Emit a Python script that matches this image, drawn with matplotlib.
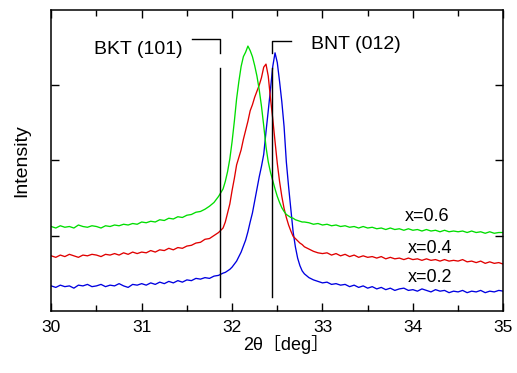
import numpy as np
import matplotlib
matplotlib.use('Agg')
import matplotlib.pyplot as plt
from matplotlib.ticker import MultipleLocator

# 字体：拉丁字母用 Liberation Sans，全角括号交给 Noto Sans CJK JP
plt.rcParams['font.family'] = ['Liberation Sans', 'Noto Sans CJK JP']

# 2θ 采样点（峰附近步长更细）
two_theta = np.concatenate([np.arange(30.00, 31.901, 0.05),
                            np.arange(31.925, 32.801, 0.025),
                            np.arange(32.85, 35.001, 0.05)])

# x=0.2 （蓝）
blue_left = [0.33, 0.31, 0.34, 0.32, 0.33, 0.30, 0.34, 0.33, 0.35, 0.32,
             0.33, 0.35, 0.32, 0.34, 0.33, 0.36, 0.33, 0.31, 0.35, 0.34,
             0.36, 0.34, 0.37, 0.35, 0.38, 0.36, 0.39, 0.37, 0.40, 0.38,
             0.41, 0.40, 0.43, 0.42, 0.44, 0.43, 0.46, 0.47, 0.50]
blue_peak = [0.51, 0.53, 0.55, 0.58, 0.62, 0.66, 0.72, 0.78, 0.86, 0.94,
             1.05, 1.18, 1.30, 1.46, 1.62, 1.78, 1.92, 2.08, 2.38, 2.66,
             2.95, 3.25, 3.43, 3.30, 3.05, 2.78, 2.45, 1.98, 1.65, 1.35,
             1.05, 0.85, 0.70, 0.60, 0.53, 0.49]
blue_right = [0.44, 0.41, 0.39, 0.37, 0.38, 0.35, 0.36, 0.34, 0.35, 0.32,
              0.34, 0.31, 0.33, 0.30, 0.32, 0.29, 0.31, 0.28, 0.30, 0.27,
              0.29, 0.30, 0.27, 0.28, 0.26, 0.29, 0.27, 0.25, 0.28, 0.26,
              0.27, 0.24, 0.26, 0.25, 0.27, 0.24, 0.26, 0.25, 0.27, 0.24,
              0.26, 0.25, 0.27, 0.26]

# x=0.4 （红）
red_left = [0.73, 0.71, 0.74, 0.72, 0.75, 0.73, 0.71, 0.74, 0.73, 0.75,
            0.74, 0.72, 0.75, 0.74, 0.76, 0.74, 0.77, 0.75, 0.78, 0.76,
            0.78, 0.77, 0.80, 0.78, 0.81, 0.80, 0.83, 0.81, 0.84, 0.83,
            0.86, 0.87, 0.90, 0.91, 0.95, 0.96, 1.00, 1.04, 1.10]
red_peak = [1.18, 1.30, 1.42, 1.60, 1.76, 1.94, 2.04, 2.14, 2.28, 2.40,
            2.52, 2.66, 2.74, 2.84, 2.92, 3.00, 3.10, 3.24, 3.28, 3.12,
            2.82, 2.55, 2.25, 1.96, 1.72, 1.52, 1.36, 1.24, 1.14, 1.06,
            0.99, 0.96, 0.93, 0.90, 0.88, 0.85]
red_right = [0.82, 0.79, 0.77, 0.76, 0.77, 0.74, 0.76, 0.73, 0.75, 0.72,
             0.74, 0.71, 0.73, 0.71, 0.72, 0.70, 0.72, 0.69, 0.71, 0.69,
             0.70, 0.68, 0.70, 0.68, 0.69, 0.67, 0.69, 0.67, 0.68, 0.66,
             0.68, 0.66, 0.67, 0.66, 0.68, 0.65, 0.66, 0.64, 0.66, 0.63,
             0.65, 0.63, 0.64, 0.62]

# x=0.6 （绿）
green_left = [1.12, 1.10, 1.13, 1.11, 1.12, 1.10, 1.14, 1.12, 1.11, 1.13,
              1.12, 1.10, 1.13, 1.12, 1.14, 1.13, 1.15, 1.14, 1.16, 1.15,
              1.18, 1.17, 1.19, 1.18, 1.21, 1.20, 1.23, 1.22, 1.25, 1.24,
              1.27, 1.28, 1.31, 1.32, 1.35, 1.39, 1.44, 1.52, 1.62]
green_peak = [1.72, 1.85, 2.02, 2.25, 2.52, 2.82, 3.05, 3.25, 3.38, 3.44,
              3.52, 3.46, 3.38, 3.26, 3.12, 2.94, 2.72, 2.46, 2.18, 1.98,
              1.84, 1.73, 1.62, 1.52, 1.44, 1.37, 1.32, 1.28, 1.26, 1.24,
              1.23, 1.21, 1.20, 1.19, 1.18, 1.18]
green_right = [1.17, 1.15, 1.16, 1.14, 1.15, 1.13, 1.14, 1.12, 1.13, 1.11,
               1.12, 1.10, 1.12, 1.10, 1.11, 1.09, 1.10, 1.08, 1.10, 1.08,
               1.09, 1.07, 1.09, 1.07, 1.08, 1.06, 1.08, 1.06, 1.07, 1.05,
               1.07, 1.05, 1.06, 1.05, 1.06, 1.04, 1.06, 1.04, 1.05, 1.03,
               1.05, 1.03, 1.04, 1.04]

labels = ['x=0.2', 'x=0.4', 'x=0.6']
colors = ['#0000e0', '#e00000', '#00dd00']
series = [blue_left + blue_peak + blue_right,
          red_left + red_peak + red_right,
          green_left + green_peak + green_right]
label_pos = [(33.945, 0.386), (33.945, 0.767), (33.91, 1.197)]

# 参考峰位置
bkt_pos = 31.87
bnt_pos = 32.445

fig = plt.figure(figsize=(5.17, 3.73), dpi=100)
ax = fig.add_axes([0.0992, 0.167, 0.8743, 0.8062])

for y, c in zip(series, colors):
    ax.plot(two_theta, y, color=c, lw=0.95)

for lab, (lx, ly) in zip(labels, label_pos):
    ax.text(lx, ly, lab, fontsize=13, va='baseline', ha='left')

# 峰位竖线和标注
ax.plot([bkt_pos, bkt_pos], [0.18, 3.23], color='k', lw=1.0)
ax.plot([31.56, bkt_pos, bkt_pos], [3.61, 3.61, 3.43], color='k', lw=1.0)
ax.text(30.47, 3.42, 'BKT (101)', fontsize=14, va='baseline', ha='left')

ax.plot([bnt_pos, bnt_pos], [0.18, 3.23], color='k', lw=1.0)
ax.plot([32.655, bnt_pos, bnt_pos], [3.59, 3.59, 3.43], color='k', lw=1.0)
ax.text(32.87, 3.48, 'BNT (012)', fontsize=14, va='baseline', ha='left')

ax.set_xlim(30, 35)
ax.set_ylim(0, 4)
ax.set_xticks([30, 31, 32, 33, 34, 35])
ax.xaxis.set_minor_locator(MultipleLocator(0.5))
ax.set_yticks([1, 2, 3])
ax.set_yticklabels([])
ax.tick_params(which='both', direction='in', top=True, right=True, width=1.0)
ax.tick_params(which='major', length=6, labelsize=12.5, pad=6.5)
ax.tick_params(which='minor', length=4)
for s in ax.spines.values():
    s.set_linewidth(1.1)

ax.set_xlabel('2θ［deg］', fontsize=13)
ax.xaxis.label.set_va('baseline')
ax.xaxis.set_label_coords(0.519, -0.131)
ax.set_ylabel('Intensity', fontsize=14)
ax.yaxis.label.set_va('center')
ax.yaxis.set_label_coords(-0.065, 0.5)

plt.savefig('out.png', dpi=100)
